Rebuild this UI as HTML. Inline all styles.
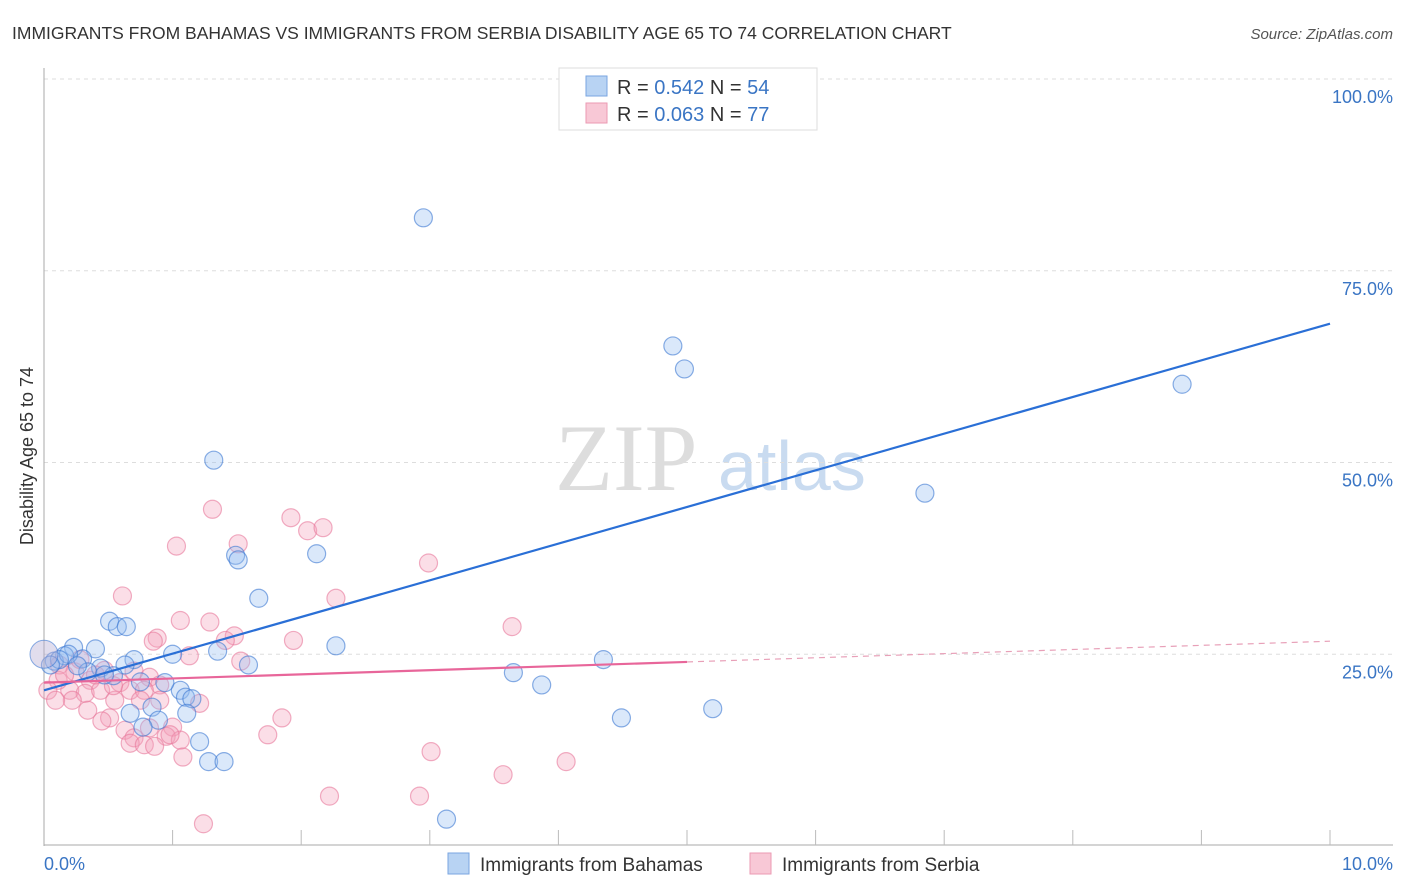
<!DOCTYPE html>
<html><head><meta charset="utf-8"><style>
body{margin:0;background:#fff;font-family:"Liberation Sans",sans-serif;}
svg{display:block}
</style></head><body>
<svg id="chart" width="1406" height="892">
<text x="12" y="39" font-size="17.5" fill="#333">IMMIGRANTS FROM BAHAMAS VS IMMIGRANTS FROM SERBIA DISABILITY AGE 65 TO 74 CORRELATION CHART</text>
<text x="1393" y="39" font-size="15" fill="#555" font-style="italic" text-anchor="end">Source: ZipAtlas.com</text>
<g>
<text x="555" y="490" font-size="95" fill="#ddd" font-family="Liberation Serif,serif">ZIP</text>
<text x="718" y="490" font-size="70" fill="#c9dbf0">atlas</text>
</g>
<g id="grid"></g>
<g id="axes"></g>
<g id="pts"></g>
<g id="trend"></g>
<g>
<rect x="559" y="68" width="258" height="62" fill="#fff" stroke="#ddd"/>
<rect x="586" y="76" width="21" height="20" fill="#b8d3f3" stroke="#7aa6e0"/>
<rect x="586" y="103" width="21" height="20" fill="#f8c8d6" stroke="#eb9ab3"/>
<text x="617" y="94" font-size="20" fill="#333">R = <tspan fill="#3a75c4">0.542</tspan>   N = <tspan fill="#3a75c4">54</tspan></text>
<text x="617" y="121" font-size="20" fill="#333">R = <tspan fill="#3a75c4">0.063</tspan>   N = <tspan fill="#3a75c4">77</tspan></text>
</g>
<g>
<rect x="448" y="853" width="21" height="21" fill="#b8d3f3" stroke="#7aa6e0"/>
<text x="480" y="871" font-size="19" fill="#333">Immigrants from Bahamas</text>
<rect x="750" y="853" width="21" height="21" fill="#f8c8d6" stroke="#eb9ab3"/>
<text x="782" y="871" font-size="19" fill="#333">Immigrants from Serbia</text>
</g>
<text transform="translate(33,456) rotate(-90)" font-size="18" fill="#333" text-anchor="middle">Disability Age 65 to 74</text>
</svg>
<script>
const yTicks=[25,50,75,100];
const yTickLabels=["25.0%","50.0%","75.0%","100.0%"];
const xTickLabels=["0.0%","10.0%"];
const bahamasX=[5.92,2.95,4.89,4.98,8.85,6.85,1.32,1.49,1.51,2.12,1.67,2.27,0.51,0.57,0.64,0.40,0.23,0.16,0.08,0.30,0.19,0.70,1.0,1.35,1.59,0.63,0.44,0.54,0.34,0.75,1.06,1.10,1.15,0.84,0.67,1.11,0.89,0.77,1.21,1.28,1.40,3.13,3.65,3.87,4.35,4.49,5.2,0.12,0.26,0.47,0.94,0.05];
const bahamasY=[99.9,81.9,65.2,62.2,60.2,46.0,50.3,37.9,37.3,38.1,32.3,26.1,29.3,28.6,28.6,25.7,25.9,24.8,24.1,24.4,25.0,24.3,25.0,25.4,23.6,23.6,23.2,22.2,22.7,21.4,20.3,19.4,19.2,18.1,17.3,17.3,16.4,15.5,13.6,11.0,11.0,3.5,22.6,21.0,24.3,16.7,17.9,24.3,23.5,22.3,21.3,23.6];
const serbiaX=[1.31,1.03,1.51,1.92,2.05,2.17,2.99,0.61,2.27,1.06,1.29,3.64,0.88,0.85,1.48,1.41,1.94,1.13,1.53,0.12,0.24,0.36,0.47,0.59,0.70,0.82,0.20,0.32,0.44,0.55,0.67,0.9,0.22,0.34,0.51,0.63,0.45,0.90,0.78,1.0,0.95,1.06,1.08,1.21,0.7,0.67,0.82,0.78,1.85,1.74,1.24,2.22,2.92,3.01,3.57,4.06,0.11,0.03,0.09,0.16,0.28,0.40,0.54,0.75,0.98,0.86];
const serbiaY=[43.9,39.1,39.4,42.8,41.1,41.5,36.9,32.6,32.3,29.4,29.2,28.6,27.1,26.7,27.4,26.8,26.8,24.8,24.1,23.6,22.7,21.6,22.9,21.3,22.8,22.0,20.3,19.9,20.3,19.0,20.3,21.0,19.0,17.7,16.7,15.1,16.3,19.0,20.3,15.5,14.3,13.8,11.6,18.6,14.1,13.4,15.4,13.2,16.7,14.5,2.9,6.5,6.5,12.3,9.3,11.0,21.6,20.3,19.0,22.3,24.3,22.3,20.9,19.0,14.5,13.0];
const bahamasTrend=[20.3,68.1];
const serbiaTrend=[21.3,26.7];
const X0=44,X1=1330,Y0=846,Y100=79;
const sx=v=>X0+(X1-X0)*v/10;
const sy=v=>Y0-(Y0-Y100)*v/100;
const NS="http://www.w3.org/2000/svg";
function mk(parent,tag,attrs){const e=document.createElementNS(NS,tag);for(const k in attrs)e.setAttribute(k,attrs[k]);document.getElementById(parent).appendChild(e);return e;}
yTicks.forEach((t,i)=>{
 const l=mk('grid','line',{x1:44,x2:1393,y1:sy(t),y2:sy(t),stroke:'#ddd','stroke-dasharray':'4,4'});
 
 
 const tx=mk('grid','text',{x:1393,y:sy(t)+24,'font-size':18,fill:'#3a75c4','text-anchor':'end'});
 tx.textContent=yTickLabels[i];
 
 
});
let a=mk('axes','line',{x1:44,x2:44,y1:68,y2:846,stroke:'#aaa'});


a=mk('axes','line',{x1:44,x2:1393,y1:845,y2:845,stroke:'#aaa'});


for(let i=1;i<=10;i++){
 const t=mk('axes','line',{x1:sx(i),x2:sx(i),y1:830,y2:845,stroke:'#bbb'});
 
 
}
let xl=mk('axes','text',{x:44,y:870,'font-size':18,fill:'#3a75c4'});
xl.textContent=xTickLabels[0];


xl=mk('axes','text',{x:1393,y:870,'font-size':18,fill:'#3a75c4','text-anchor':'end'});
xl.textContent=xTickLabels[1];


serbiaX.forEach((v,i)=>{
 const c=mk('pts','circle',{cx:sx(v),cy:sy(serbiaY[i]),r:9,fill:'rgba(244,160,185,0.35)',stroke:'rgba(232,120,155,0.6)','stroke-width':1.2});
 
 
});
bahamasX.forEach((v,i)=>{
 const c=mk('pts','circle',{cx:sx(v),cy:sy(bahamasY[i]),r:9,fill:'rgba(150,190,240,0.35)',stroke:'rgba(60,120,210,0.6)','stroke-width':1.2});
 
 
});
let big=mk('pts','circle',{cx:sx(0),cy:sy(25),r:14,fill:'rgba(180,170,210,0.4)',stroke:'rgba(60,120,210,0.6)'});


let tl=mk('trend','line',{x1:sx(0),y1:sy(bahamasTrend[0]),x2:sx(10),y2:sy(bahamasTrend[1]),stroke:'#2a6fd6','stroke-width':2.2});


const smid=serbiaTrend[0]+(serbiaTrend[1]-serbiaTrend[0])*0.5;
tl=mk('trend','line',{x1:sx(0),y1:sy(serbiaTrend[0]),x2:sx(5),y2:sy(smid),stroke:'#e8669a','stroke-width':2.2});


tl=mk('trend','line',{x1:sx(5),y1:sy(smid),x2:sx(10),y2:sy(serbiaTrend[1]),stroke:'#e8a0b8','stroke-width':1.2,'stroke-dasharray':'6,5'});


</script>
</body></html>
